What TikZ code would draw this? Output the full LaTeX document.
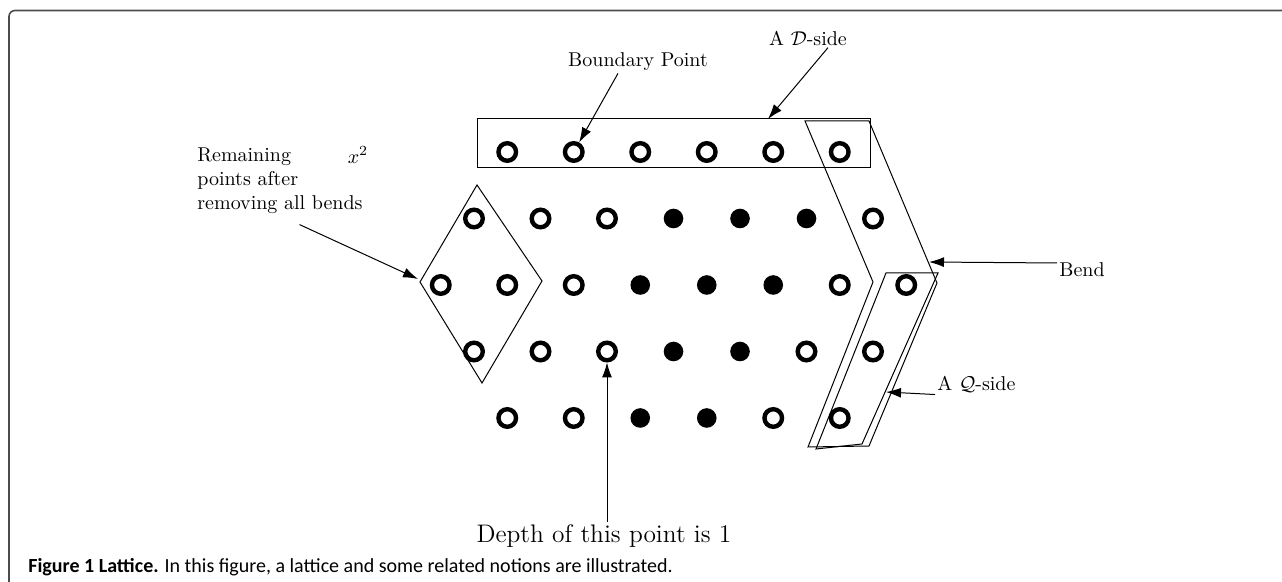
\documentclass[tikz,border=0pt]{standalone}
\usepackage{fontspec}
\newfontfamily\capfont{Carlito}
\usetikzlibrary{arrows.meta}

\tikzset{
  pto/.style={circle,draw,line width=2.2pt,minimum size=8.8pt,inner sep=0pt},
  ptf/.style={circle,fill,minimum size=9.8pt,inner sep=0pt},
  side/.style={line width=0.5pt},
  tip/.style={-{Latex[length=7.5pt,width=5pt]},line width=0.5pt},
  lbl/.style={inner sep=1pt}
}

\begin{document}
\begin{tikzpicture}[x=0.5pt,y=-0.5pt]
\useasboundingbox (0,0) rectangle (1282,582);
\draw[gray!60!black,line width=0.8pt,rounded corners=3pt] (1282,10.5) -- (9,10.5) -- (9,582);

% lattice, o = open, f = filled
\foreach \n/\kinds [count=\r from 0] in
  {6/{o,o,o,o,o,o}, 7/{o,o,o,f,f,f,o}, 8/{o,o,o,f,f,f,o,o}, 7/{o,o,o,f,f,o,o}, 6/{o,o,f,f,o,o}}
  \foreach \t [count=\k] in \kinds
    \node[pt\t] (p-\r-\k) at ({673.5+66.5*(\k-(\n+1)/2)},{152+66.5*\r}) {};

% sides, bend and the inner points
\draw[side] (477,119) rectangle (870,168);
\draw[side] (805,121) -- (869,121) -- (937,283) -- (869,446) -- (808,447) -- (873,282) -- cycle;
\draw[side] (886,273) -- (938,273) -- (862,444) -- (816,449) -- cycle;
\draw[side] (477,185) -- (542,281) -- (482,383) -- (420,282) -- cycle;

\coordinate (dtip) at (768,119);
\coordinate (btip) at (929,262);
\coordinate (qtip) at (886,392);
\coordinate (rtip) at (418,279);

\node[lbl] (bpt) at (638,62) {Boundary Point};
\node[lbl] (dlab) at (808,38) {A $\mathcal{D}$-side};
\node[lbl,anchor=west] (bend) at (1057,270) {Bend};
\node[lbl,anchor=west] (qlab) at (935,384) {A $\mathcal{Q}$-side};
\node[inner sep=0pt,anchor=north west,align=left] (rem) at (197,147) {Remaining\\points after\\removing all bends};
\node[lbl] (sq) at (358,155) {$x^2$};
\node[lbl,font=\fontsize{12.7}{15}\selectfont] (depth) at (604,536) {Depth of this point is 1};
\node[anchor=west,inner sep=0pt,font=\capfont\fontsize{10}{12}\selectfont] (cap) at (28,567)
  {\textbf{Figure 1 Lattice.} In this figure, a lattice and some related notions are illustrated.};

\path[tip]
    ([xshift=-10pt]bpt.south) edge (p-0-2)
    ([xshift=10pt]dlab.south) edge (dtip)
    ([yshift=3.5pt]bend.west) edge (btip)
    (qlab.south west) edge (qtip)
    ([xshift=9.75pt,yshift=-5.5pt]rem.south) edge (rtip)
    (depth.north -| p-3-3) edge (p-3-3);
\end{tikzpicture}
\end{document}
